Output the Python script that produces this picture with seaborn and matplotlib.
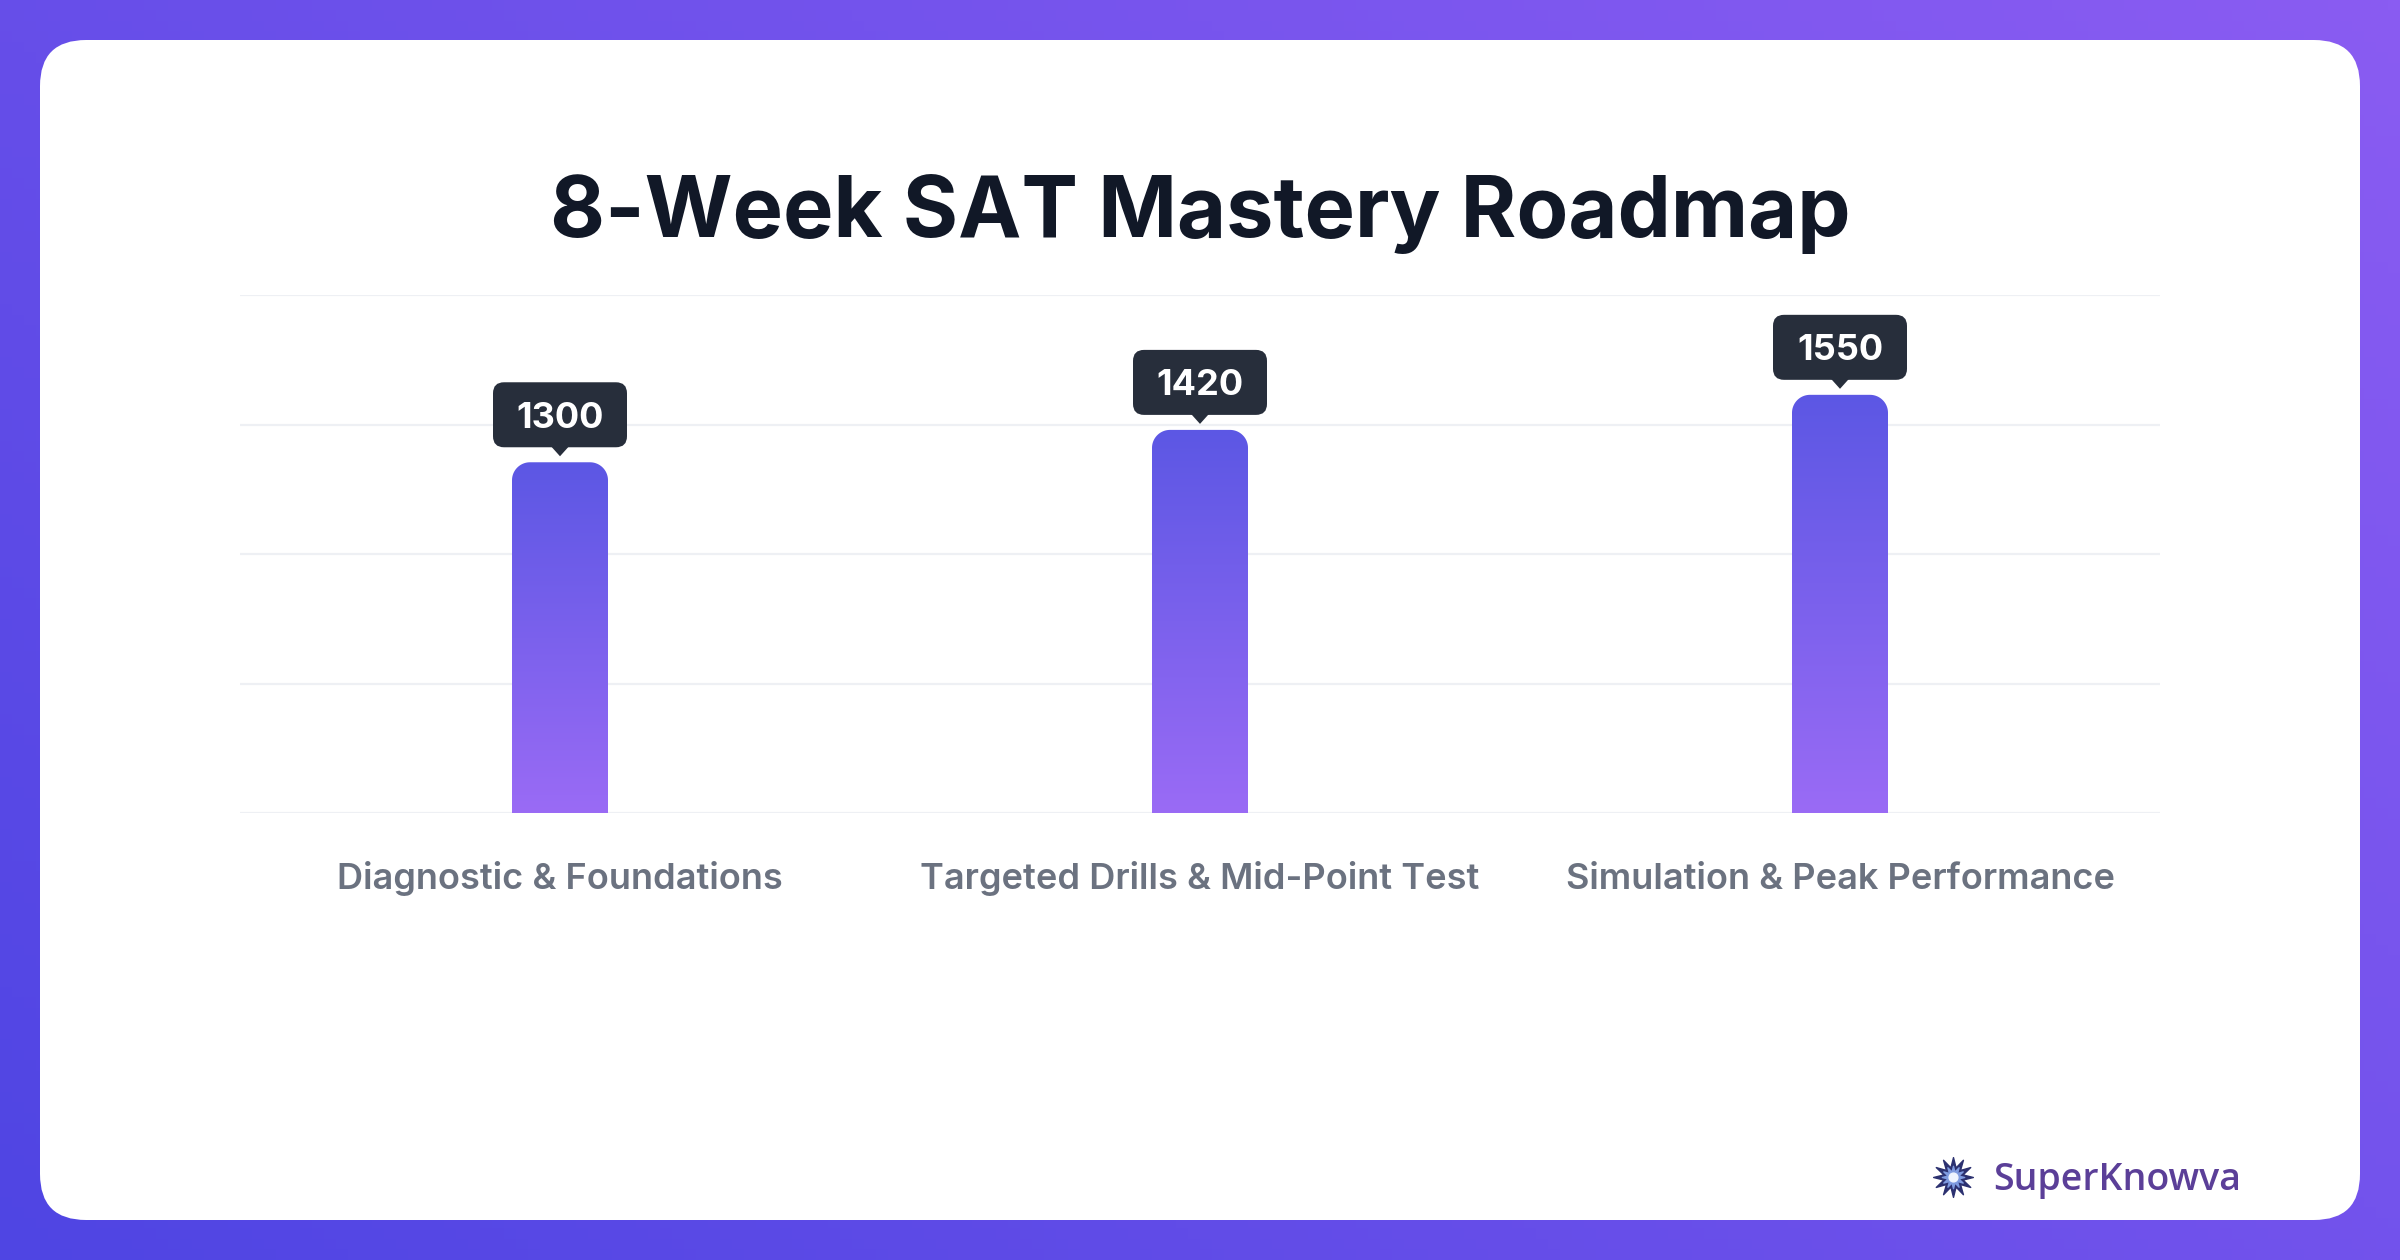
import numpy as np
import pandas as pd
import matplotlib
matplotlib.use("Agg")
import matplotlib.pyplot as plt
import seaborn as sns
from matplotlib.patches import FancyBboxPatch, PathPatch, Polygon
from matplotlib.path import Path
from matplotlib.colors import to_rgb

# --- data ---
phases = ["Diagnostic & Foundations", "Targeted Drills & Mid-Point Test", "Simulation & Peak Performance"]
scores = [1300, 1420, 1550]
y_max = 1920

title = "8-Week SAT Mastery Roadmap"
brand = "SuperKnowva"

# --- style ---
sns.set_theme(style="white")
plt.rcParams["font.family"] = ["Inter", "DejaVu Sans"]

W, H = 2400, 1260
fig = plt.figure(figsize=(W / 100, H / 100), dpi=100)

# background gradient + white card
bg = fig.add_axes([0, 0, 1, 1], zorder=0)
c1, c2 = np.array(to_rgb("#4f45e3")), np.array(to_rgb("#8a5cf2"))
gx, gy = np.meshgrid(np.linspace(0, 1, 200), np.linspace(1, 0, 120))
t = (gx * 0.6 + gy * 0.4)[..., None]
bg.imshow(c1 * (1 - t) + c2 * t, extent=(0, W, 0, H), aspect="auto", origin="upper")
bg.add_patch(FancyBboxPatch((40, 40), W - 80, H - 80,
                            boxstyle="round,pad=0,rounding_size=46",
                            fc="white", ec="none"))
bg.set_xlim(0, W); bg.set_ylim(0, H); bg.axis("off")

# main chart
ax = fig.add_axes([240 / W, 1 - 813 / H, 1920 / W, 518 / H], zorder=1)
ax.patch.set_alpha(0)
df = pd.DataFrame({"phase": phases, "score": scores})
sns.barplot(data=df, x="phase", y="score", width=0.15, color="#6366f1", ax=ax)
ax.set_xlim(-0.5, len(phases) - 0.5)
ax.set_ylim(0, y_max)
ax.set_yticks(np.linspace(0, y_max, 5))
ax.yaxis.grid(True, color="#eef0f4", lw=1.6)
ax.set_axisbelow(True)
ax.set_yticklabels([])
ax.set_xlabel(""); ax.set_ylabel("")
sns.despine(ax=ax, left=True, bottom=True)
ax.tick_params(axis="both", length=0)
ax.tick_params(axis="x", pad=55, labelsize=26, labelcolor="#6b7280")
for lab in ax.get_xticklabels():
    lab.set_fontweight("semibold")
    lab.set_verticalalignment("baseline")

# pixel scale of the data axes
p0 = ax.transData.transform((0, 0))
p1 = ax.transData.transform((1, 1))
px_x, px_y = p1[0] - p0[0], p1[1] - p0[1]
rx, ry = 18 / px_x, 18 / px_y

top_c, bot_c = np.array(to_rgb("#5c57e4")), np.array(to_rgb("#9a6bf5"))
grad = np.linspace(0, 1, 256)[:, None, None]
grad_img = bot_c * (1 - grad) + top_c * grad

overlay = fig.add_axes([0, 0, 1, 1], zorder=5)
overlay.patch.set_alpha(0)
overlay.set_xlim(0, W); overlay.set_ylim(0, H); overlay.axis("off")

for bar, val in zip(ax.patches, scores):
    x0, w, h = bar.get_x(), bar.get_width(), bar.get_height()
    bar.set_visible(False)
    pts = [(x0, 0), (x0 + w, 0), (x0 + w, h - ry)]
    for a in np.linspace(0, np.pi / 2, 24):
        pts.append((x0 + w - rx + rx * np.cos(a), h - ry + ry * np.sin(a)))
    for a in np.linspace(np.pi / 2, np.pi, 24):
        pts.append((x0 + rx + rx * np.cos(a), h - ry + ry * np.sin(a)))
    pts.append((x0, 0))
    clip = PathPatch(Path(pts, closed=True), transform=ax.transData, fc="none", ec="none")
    ax.add_patch(clip)
    im = ax.imshow(grad_img, extent=(x0, x0 + w, 0, h), origin="lower",
                   aspect="auto", zorder=2)
    im.set_clip_path(clip)

    # tooltip label above the bar
    cx, ty = ax.transData.transform((x0 + w / 2, h))
    bw, bh, gap = 134, 65, 15
    overlay.add_patch(FancyBboxPatch((cx - bw / 2, ty + gap), bw, bh,
                                     boxstyle="round,pad=0,rounding_size=11",
                                     fc="#272e3b", ec="none"))
    overlay.add_patch(Polygon([(cx - 9, ty + gap + 1), (cx + 9, ty + gap + 1), (cx, ty + 6)],
                              closed=True, fc="#272e3b", ec="none"))
    overlay.text(cx, ty + gap + bh / 2, f"{val}", ha="center", va="center_baseline",
                 fontsize=26, fontweight="bold", color="white")

ax.set_xlim(-0.5, len(phases) - 0.5)
ax.set_ylim(0, y_max)

# title
fig.text(0.5, 1 - 214 / H, title, ha="center", va="center", fontsize=61,
         fontweight="bold", color="#111827")

# brand
overlay.scatter([1953], [83], marker=(12, 1, 0), s=820, color="#2c3170", zorder=6)
overlay.scatter([1953], [83], marker=(12, 1, 0), s=260, color="#7f9be0", zorder=7)
overlay.scatter([1953], [83], s=40, color="#eef4ff", zorder=8)
overlay.text(1993, 80, brand, ha="left", va="center", fontsize=27,
             family=["Open Sans", "DejaVu Sans"], fontweight="semibold", color="#5b3f98")

fig.savefig("out.png", dpi=100)
